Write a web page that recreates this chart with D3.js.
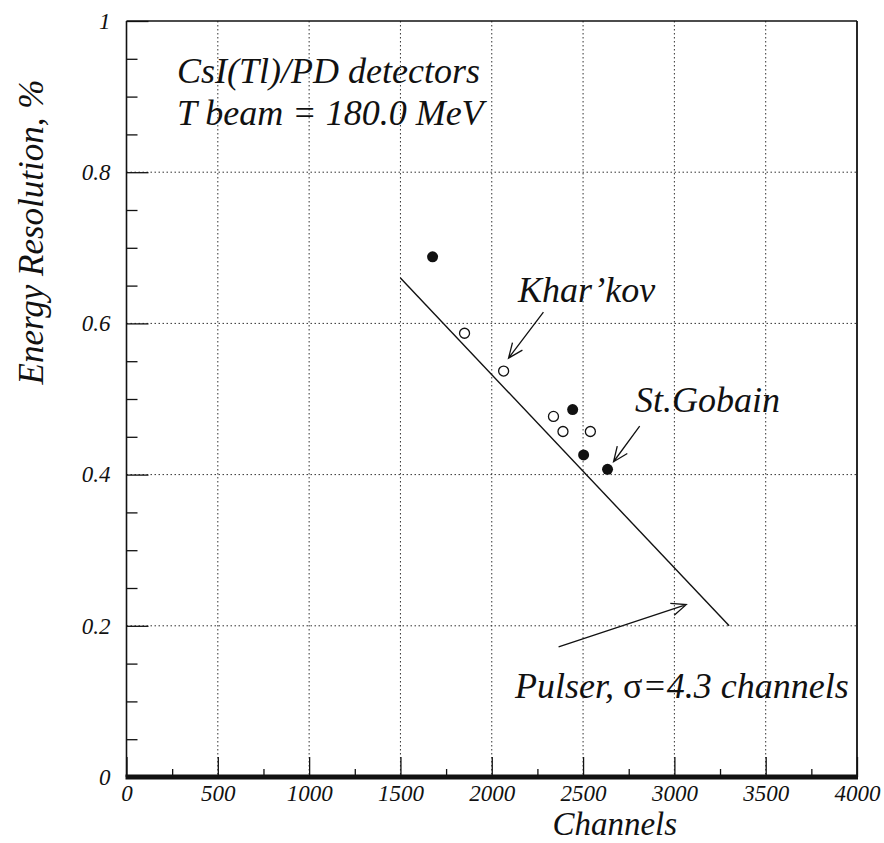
<!DOCTYPE html>
<html>
<head>
<meta charset="utf-8">
<script src="https://cdn.jsdelivr.net/npm/d3@7"></script>
<style>
  body { margin: 0; background: #fff; }
  svg { display: block; }
  svg text { font-family: 'Liberation Serif', 'DejaVu Serif', 'Times New Roman', Times, serif; font-style: italic; fill: #111; }
</style>
</head>
<body>
<svg id="chart" width="884" height="843"></svg>
<script>
// Axis ticks
const xTicks = [0, 500, 1000, 1500, 2000, 2500, 3000, 3500, 4000];
const xMinorTicks = [250, 750, 1250, 1750, 2250, 2750, 3250, 3750];
const yTicks = [0, 0.2, 0.4, 0.6, 0.8, 1];
const yTickLabels = ["0", "0.2", "0.4", "0.6", "0.8", "1"];
const yMinorTicks = [0.05, 0.1, 0.15, 0.25, 0.3, 0.35, 0.45, 0.5, 0.55, 0.65, 0.7, 0.75, 0.85, 0.9, 0.95];

// St.Gobain crystals (filled markers)
const stGobainChannels = [1676, 2443, 2503, 2634];
const stGobainResolution = [0.688, 0.486, 0.426, 0.407];

// Khar'kov crystals (open markers)
const kharkovChannels = [1851, 2065, 2338, 2390, 2540];
const kharkovResolution = [0.587, 0.537, 0.477, 0.457, 0.457];

// Pulser contribution line
const pulserChannels = [1500, 3300];
const pulserResolution = [0.66, 0.20];

// Annotation arrows (tail -> head, in data units)
const kharkovArrow = [[2283, 0.615], [2092, 0.554]];
const stGobainArrow = [[2810, 0.464], [2667, 0.417]];
const pulserArrow = [[2366, 0.172], [3065, 0.228]];

const serif = "'Liberation Serif', 'DejaVu Serif', 'Times New Roman', Times, serif";
const svg = d3.select("#chart");
const x = d3.scaleLinear().domain([0, 4000]).range([126.5, 857]);
const y = d3.scaleLinear().domain([0, 1]).range([777, 21]);

const ink = "#111";

// dotted grid
const grid = svg.append("g").attr("stroke", "#333").attr("stroke-width", 1).attr("stroke-dasharray", "1.5,2.5");
grid.selectAll("line.v").data(xTicks.slice(1, -1)).join("line")
  .attr("x1", d => x(d)).attr("x2", d => x(d)).attr("y1", y(1)).attr("y2", y(0));
grid.selectAll("line.h").data(yTicks.slice(1, -1)).join("line")
  .attr("x1", x(0)).attr("x2", x(4000)).attr("y1", d => y(d)).attr("y2", d => y(d));

// x axis: major + minor ticks pointing inward
svg.append("g").attr("transform", `translate(0,${y(0)})`)
  .call(d3.axisBottom(x).tickValues(xTicks).tickSize(-20).tickPadding(8).tickFormat(d3.format("d")));
svg.append("g").attr("transform", `translate(0,${y(0)})`)
  .call(d3.axisBottom(x).tickValues(xMinorTicks).tickSize(-8).tickFormat(""));

// y axis
svg.append("g").attr("transform", `translate(${x(0)},0)`)
  .call(d3.axisLeft(y).tickValues(yTicks).tickSize(-22).tickPadding(16).tickFormat((d, i) => yTickLabels[i]));
svg.append("g").attr("transform", `translate(${x(0)},0)`)
  .call(d3.axisLeft(y).tickValues(yMinorTicks).tickSize(-11).tickFormat(""));

svg.selectAll(".domain").remove();
svg.selectAll("g[font-family]").attr("font-family", serif);
svg.selectAll(".tick line").attr("stroke", ink).attr("stroke-width", 1.3);
svg.selectAll(".tick text").attr("font-size", 23).attr("fill", ink);

// frame
const frame = svg.append("g").attr("stroke", ink).attr("fill", "none");
frame.append("line").attr("x1", x(0)).attr("x2", x(0)).attr("y1", y(1)).attr("y2", y(0)).attr("stroke-width", 1.6);
frame.append("line").attr("x1", x(0)).attr("x2", x(4000)).attr("y1", y(1)).attr("y2", y(1)).attr("stroke-width", 1.6);
frame.append("line").attr("x1", x(4000)).attr("x2", x(4000)).attr("y1", y(1)).attr("y2", y(0)).attr("stroke-width", 1.8);
frame.append("line").attr("x1", x(0) - 1).attr("x2", x(4000) + 1).attr("y1", y(0)).attr("y2", y(0)).attr("stroke-width", 5);

// pulser line
svg.append("path")
  .datum(pulserChannels.map((c, i) => [c, pulserResolution[i]]))
  .attr("d", d3.line().x(d => x(d[0])).y(d => y(d[1])))
  .attr("fill", "none").attr("stroke", ink).attr("stroke-width", 1.4);

// markers
svg.append("g").selectAll("circle")
  .data(kharkovChannels.map((c, i) => [c, kharkovResolution[i]])).join("circle")
  .attr("cx", d => x(d[0])).attr("cy", d => y(d[1])).attr("r", 5)
  .attr("fill", "#fff").attr("stroke", ink).attr("stroke-width", 1.3);
svg.append("g").selectAll("circle")
  .data(stGobainChannels.map((c, i) => [c, stGobainResolution[i]])).join("circle")
  .attr("cx", d => x(d[0])).attr("cy", d => y(d[1])).attr("r", 5.5)
  .attr("fill", ink);

// open-headed arrows
function arrow(pts) {
  const [x0, y0] = [x(pts[0][0]), y(pts[0][1])];
  const [x1, y1] = [x(pts[1][0]), y(pts[1][1])];
  const a = Math.atan2(y1 - y0, x1 - x0);
  const len = 16, spread = 0.4;
  const p = d3.path();
  p.moveTo(x0, y0); p.lineTo(x1, y1);
  p.moveTo(x1 - len * Math.cos(a - spread), y1 - len * Math.sin(a - spread));
  p.lineTo(x1, y1);
  p.lineTo(x1 - len * Math.cos(a + spread), y1 - len * Math.sin(a + spread));
  svg.append("path").attr("d", p.toString()).attr("fill", "none")
    .attr("stroke", ink).attr("stroke-width", 1.3);
}
arrow(kharkovArrow);
arrow(stGobainArrow);
arrow(pulserArrow);

// annotations
const note = (tx, ty, str, size) => svg.append("text").attr("x", tx).attr("y", ty)
  .attr("font-family", serif).attr("font-size", size).text(str);
note(177, 83, "CsI(Tl)/PD detectors", 36);
note(177, 125, "T beam = 180.0 MeV", 36);
note(518, 302, "Khar\u2019kov", 36);
note(635, 412, "St.Gobain", 36);
const pul = svg.append("text").attr("x", 515).attr("y", 698)
  .attr("font-family", serif).attr("font-size", 36);
pul.append("tspan").text("Pulser, ");
pul.append("tspan").attr("font-style", "normal").text("\u03c3");
pul.append("tspan").text("=4.3 channels");

// axis titles
svg.append("text").attr("x", x(2000) + 123).attr("y", 835).attr("text-anchor", "middle")
  .attr("font-family", serif).attr("font-size", 33).text("Channels");
svg.append("text").attr("transform", "translate(43,232) rotate(-90)").attr("text-anchor", "middle")
  .attr("font-family", serif).attr("font-size", 35).text("Energy Resolution, %");
</script>
</body>
</html>
